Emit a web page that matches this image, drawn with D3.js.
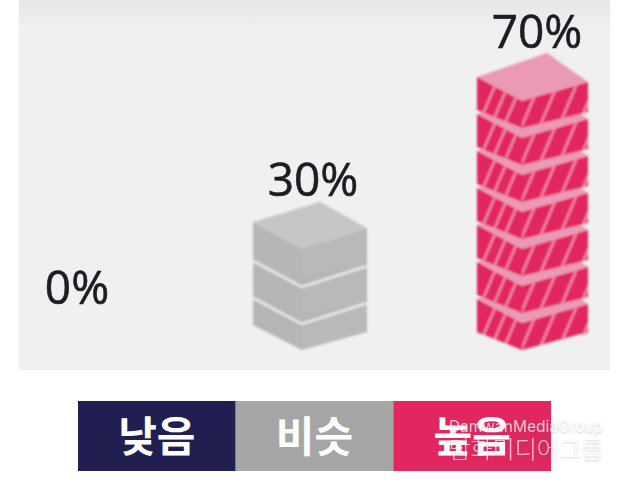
<!DOCTYPE html>
<html>
<head>
<meta charset="utf-8">
<script src="https://cdn.jsdelivr.net/npm/d3@7"></script>
<style>
html, body { margin: 0; padding: 0; background: #fff; }
svg { display: block; }
</style>
</head>
<body>
<script>
const categories = ["낮음", "비슷", "높음"];
const values = [0, 30, 70];
const valueLabels = ["0%", "30%", "70%"];
const barColors = ["#211f4f", "#a6a6a6", "#e2265f"];
const blockStep = 10;

const width = 630, height = 483;
const svg = d3.select("body").append("svg").attr("width", width).attr("height", height);

const defs = svg.append("defs");
defs.append("filter").attr("id", "soft").append("feGaussianBlur").attr("stdDeviation", 0.8);
defs.append("filter").attr("id", "softText").append("feGaussianBlur").attr("stdDeviation", 0.5);
defs.append("filter").attr("id", "wmShadow").append("feDropShadow")
  .attr("dx", 0).attr("dy", 1).attr("stdDeviation", 1.2).attr("flood-color", "#555").attr("flood-opacity", 0.45);
const topFade = defs.append("linearGradient").attr("id", "topFade").attr("x1", 0).attr("x2", 0).attr("y1", 0).attr("y2", 1);
topFade.append("stop").attr("offset", "0").attr("stop-color", "#e7e7e7");
topFade.append("stop").attr("offset", "0.08").attr("stop-color", "#f0f0f0");
topFade.append("stop").attr("offset", "1").attr("stop-color", "#f0f0f0");

svg.append("rect").attr("x", 19).attr("y", 0).attr("width", 591).attr("height", 370).attr("fill", "url(#topFade)");

const x = d3.scalePoint().domain(categories).range([82, 522]);
const y = d3.scaleLinear().domain([0, 70]).range([350, 91]);

// block outline relative to the bottom front corner
const shapes = {
  "비슷": { l: -49, r: 65, bx: 18, bt: -74, lt: -54, rt: -48, ft: -27, lb: -17, rb: -11, lb0: -25, rb0: -18,
    left: "#b6b6b6", right: "#b9b9b9", top: "#c6c6c6", edge: "#e4e4e4" },
  "높음": { l: -45, r: 66, bx: 25, bt: -75, lt: -51, rt: -46, ft: -27, lb: -18, rb: -16, lb0: -18, rb0: -18,
    left: "#e2265f", right: "#e2265f", top: "#eb9ab6", edge: "#eb9ab6" }
};
const pts = a => a.map(p => p.join(",")).join(" ");
const leftFace = (s, i) => [[s.l, s.lt], [0, s.ft], [0, 0], [s.l, i === 0 ? s.lb0 : s.lb]];
const rightFace = (s, i) => [[0, s.ft], [s.r, s.rt], [s.r, i === 0 ? s.rb0 : s.rb], [0, 0]];
const topFace = s => [[s.l, s.lt], [s.bx, s.bt], [s.r, s.rt], [0, s.ft]];

const pink = shapes["높음"];
defs.append("clipPath").attr("id", "clipLeft").append("polygon").attr("points", pts(leftFace(pink, 0)));
defs.append("clipPath").attr("id", "clipRight").append("polygon").attr("points", pts(rightFace(pink, 1)));

const chart = svg.append("g").attr("filter", "url(#soft)");

// faint base line behind the tall stack
chart.append("line").attr("x1", x("높음") + pink.l).attr("x2", x("높음") + pink.r)
  .attr("y1", y(0) - 17).attr("y2", y(0) - 17).attr("stroke", "#aaa").attr("stroke-width", 1.5);

categories.forEach((c, k) => {
  const count = values[k] / blockStep;
  if (!count) return;
  const s = shapes[c];
  const g = chart.append("g").attr("transform", `translate(${x(c)},0)`);
  const b = g.selectAll("g").data(d3.range(count)).join("g")
    .attr("transform", d => `translate(0,${y(d * blockStep)})`);
  b.append("polygon").attr("points", pts(topFace(s)))
    .attr("fill", d => (d === count - 1 || c === "높음") ? s.top : s.left);
  b.append("polygon").attr("points", d => pts(leftFace(s, d))).attr("fill", s.left);
  b.append("polygon").attr("points", d => pts(rightFace(s, d))).attr("fill", s.right);
  if (c === "비슷") {
    // thin light edge between stacked grey blocks
    b.filter(d => d < count - 1).append("polyline")
      .attr("points", pts([[s.l, s.lt + 2], [0, s.ft + 1], [s.r, s.rt + 1]]))
      .attr("fill", "none").attr("stroke", s.edge).attr("stroke-width", 3);
  }
  if (c === "높음") {
    b.each(function () {
      const node = d3.select(this);
      const sl = node.append("g").attr("clip-path", "url(#clipLeft)");
      [-39, -26, -13].forEach(o => sl.append("line")
        .attr("x1", o - 6).attr("y1", 0).attr("x2", o + 18).attr("y2", -56)
        .attr("stroke", "#f28aab").attr("stroke-width", 2.4));
      const sr = node.append("g").attr("clip-path", "url(#clipRight)");
      [3, 21, 40, 59].forEach(o => sr.append("line")
        .attr("x1", o - 4).attr("y1", 0).attr("x2", o + 20).attr("y2", -56)
        .attr("stroke", "#f28aab").attr("stroke-width", 2.4));
    });
  }
});

// value labels, dark text with the soft look of the scan
const labelDx = [-5, 11, 15];
svg.append("g").attr("filter", "url(#softText)").selectAll("text").data(valueLabels).join("text")
  .attr("x", (d, i) => x(categories[i]) + labelDx[i])
  .attr("y", (d, i) => values[i] ? y(values[i] - blockStep) - 80 : y(0) - 46)
  .attr("text-anchor", "middle")
  .attr("font-family", "'Open Sans', sans-serif").attr("font-size", 46)
  .attr("fill", "#1c1c22").attr("stroke", "#1c1c22").attr("stroke-width", 0.6).text(d => d);

const legend = d3.scaleBand().domain(categories).range([78, 551]);
svg.selectAll("rect.leg").data(categories).join("rect").attr("class", "leg")
  .attr("x", d => legend(d)).attr("y", 401)
  .attr("width", legend.bandwidth()).attr("height", 70)
  .attr("fill", (d, i) => barColors[i]);
svg.selectAll("text.leg").data(categories).join("text").attr("class", "leg")
  .attr("x", d => legend(d) + legend.bandwidth() / 2).attr("y", 452)
  .attr("text-anchor", "middle")
  .attr("font-family", "'Noto Sans CJK KR'").attr("font-weight", 700).attr("font-size", 42)
  .attr("fill", "#fff").text(d => d);

// watermark
const wm = svg.append("g").attr("fill", "#fff").attr("fill-opacity", 0.7).attr("filter", "url(#wmShadow)");
wm.append("text").attr("x", 603).attr("y", 432).attr("text-anchor", "end")
  .attr("font-family", "Inter, sans-serif").attr("font-size", 15.5).text("DamwanMediaGroup");
wm.append("text").attr("x", 603).attr("y", 458).attr("text-anchor", "end")
  .attr("font-family", "'Noto Sans CJK KR'").attr("font-weight", 300).attr("font-size", 24).text("담화미디어그룹");
</script>
</body>
</html>
